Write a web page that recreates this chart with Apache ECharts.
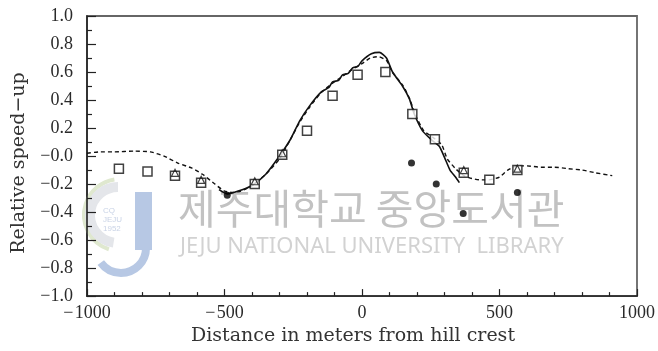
<!DOCTYPE html>
<html>
<head>
<meta charset="utf-8">
<script src="https://cdn.jsdelivr.net/npm/echarts@6/dist/echarts.min.js"></script>
<style>html,body{margin:0;padding:0;background:#fff}#c{width:658px;height:351px}</style>
</head>
<body>
<div id="c"></div>
<script>
// Dashed curve
const dashedX = [-1000,-950,-900,-830,-770,-720,-670,-620,-580,-535,-500,-470,-440,-400,-350,-300,-260,-227,-190,-150,-107,-70,-35,0,30,60,90,110,150,175,195,225,260,290,310,340,370,400,430,460,500,530,565,600,650,700,750,800,850,910];
const dashedY = [0.02,0.03,0.03,0.035,0.03,0.0,-0.05,-0.085,-0.13,-0.2,-0.25,-0.26,-0.25,-0.21,-0.13,-0.02,0.12,0.24,0.35,0.45,0.52,0.57,0.62,0.66,0.70,0.71,0.68,0.60,0.50,0.40,0.29,0.18,0.13,0.08,-0.02,-0.09,-0.14,-0.16,-0.17,-0.17,-0.15,-0.10,-0.07,-0.07,-0.08,-0.08,-0.09,-0.10,-0.12,-0.14];
// Solid curve
const solidX = [-520,-490,-450,-400,-350,-300,-260,-227,-190,-147,-120,-107,-85,-71,-50,-34,-15,0,34,63,89,111,147,172,190,220,256,281,300,320,340,354];
const solidY = [-0.24,-0.27,-0.25,-0.21,-0.13,0.0,0.12,0.25,0.36,0.46,0.49,0.53,0.54,0.58,0.59,0.63,0.64,0.68,0.73,0.74,0.70,0.60,0.50,0.41,0.30,0.18,0.11,0.07,-0.01,-0.10,-0.15,-0.19];
// Open squares
const squareX = [-884,-780,-680,-585,-390,-290,-200,-107,-16,85,183,265,370,463,565];
const squareY = [-0.09,-0.11,-0.14,-0.19,-0.20,0.01,0.18,0.43,0.58,0.60,0.30,0.12,-0.12,-0.17,-0.10];
// Open triangles
const triX = [-680,-585,-390,-290,370,565];
const triY = [-0.12,-0.17,-0.18,0.02,-0.10,-0.09];
// Filled dots
const dotX = [-490,180,270,368,565];
const dotY = [-0.28,-0.05,-0.20,-0.41,-0.26];
// Tick labels
const xTickLabels = {'-1000':'\u2212\u200a1000','-500':'\u2212\u200a500','0':'0','500':'500','1000':'1000'};

const zip = (a,b) => a.map((v,i)=>[v,b[i]]);
const FONT = 'Liberation Serif';
const TFONT = 'DejaVu Serif';

const chart = echarts.init(document.getElementById('c'), null, {renderer:'canvas'});
chart.setOption({
  animation:false,
  backgroundColor:'#fff',
  grid:{left:87,right:20,top:16,bottom:51,show:true,borderColor:'#666',borderWidth:1.8,backgroundColor:'transparent'},
  xAxis:{
    type:'value',min:-1000,max:1000,interval:500,
    name:'Distance in meters from hill crest',nameLocation:'middle',nameGap:30,
    nameTextStyle:{fontFamily:TFONT,fontSize:19,color:'#333',padding:[0,18,0,0]},
    axisLine:{show:true,onZero:false,lineStyle:{color:'#222',width:1.6}},
    axisTick:{show:true,inside:true,length:7,lineStyle:{color:'#222',width:1.2}},
    minorTick:{show:true,splitNumber:5,length:4,lineStyle:{color:'#222',width:1.2}},
    splitLine:{show:false},
    axisLabel:{fontFamily:FONT,fontSize:18,color:'#2a2a2a',margin:8,formatter:v=>xTickLabels[String(Math.round(v))]}
  },
  yAxis:{
    type:'value',min:-1,max:1,interval:0.2,
    name:'Relative speed\u2212up',nameLocation:'middle',nameGap:58,nameRotate:90,
    nameTextStyle:{fontFamily:TFONT,fontSize:19,color:'#333',padding:[0,14,0,0]},
    axisLine:{show:true,onZero:false,lineStyle:{color:'#222',width:1.6}},
    axisTick:{show:true,inside:true,length:9,lineStyle:{color:'#222',width:1.2}},
    minorTick:{show:true,splitNumber:2,length:5,lineStyle:{color:'#222',width:1.2}},
    splitLine:{show:false},
    axisLabel:{fontFamily:FONT,fontSize:18,color:'#2a2a2a',margin:14,formatter:v=>{
      if(Math.abs(v)<1e-9) return '\u22120.0';
      return v<0 ? '\u2212'+Math.abs(v).toFixed(1) : v.toFixed(1);
    }}
  },
  graphic:[
    {type:'rect',z:0,shape:{x:135,y:192,width:17,height:58},style:{fill:'#b7c8e4'}},
    {type:'arc',z:0,shape:{cx:121,cy:248,r:25,startAngle:0,endAngle:Math.PI*0.8},style:{stroke:'#b7c8e4',lineWidth:8,fill:null}},
    {type:'arc',z:0,shape:{cx:120,cy:215,r:36,startAngle:Math.PI*0.6,endAngle:Math.PI*1.45},style:{stroke:'#dfe8cf',lineWidth:4,fill:null}},
    {type:'arc',z:0,shape:{cx:118,cy:215,r:28,startAngle:Math.PI*0.55,endAngle:Math.PI*1.5},style:{stroke:'#e4e6ea',lineWidth:10,fill:null}},
    {type:'text',z:0,x:103,y:206,style:{text:'CQ\nJEJU\n1952',fill:'#c9d3e6',font:'8px sans-serif',lineHeight:9}},
    {type:'text',z:0,x:178,y:188,style:{text:'제주대학교 중앙도서관',fill:'#c2c2c2',font:'41px "Noto Sans CJK KR"'}},
    {type:'text',z:0,x:180,y:236,style:{text:'JEJU NATIONAL UNIVERSITY  LIBRARY',fill:'#d2d2d2',font:'22px "Noto Sans"'}}
  ],
  series:[
    {type:'line',data:zip(dashedX,dashedY),showSymbol:false,z:3,smooth:0.2,
      lineStyle:{color:'#111',width:1.4,type:[4,3]}},
    {type:'line',data:zip(solidX,solidY),showSymbol:false,z:3,smooth:0.2,
      lineStyle:{color:'#111',width:1.6}},
    {type:'scatter',data:zip(squareX,squareY),symbol:'rect',symbolSize:9,z:4,
      itemStyle:{color:'#fff',borderColor:'#111',borderWidth:1.5}},
    {type:'scatter',data:zip(triX,triY),symbol:'triangle',symbolSize:7,z:5,
      itemStyle:{color:'rgba(255,255,255,0)',borderColor:'#111',borderWidth:1.2}},
    {type:'scatter',data:zip(dotX,dotY),symbol:'circle',symbolSize:7,z:5,
      itemStyle:{color:'#000'}}
  ]
});
</script>
</body>
</html>
